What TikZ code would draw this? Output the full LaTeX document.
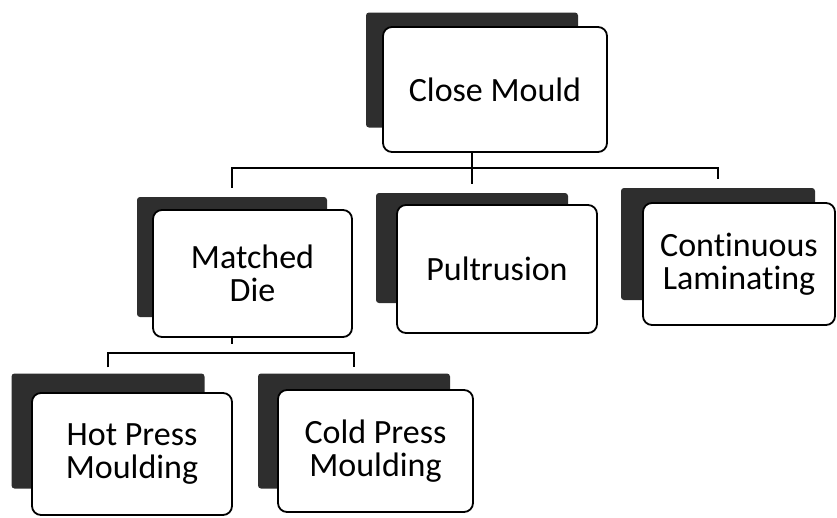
\documentclass[tikz,border=0pt]{standalone}
\usepackage{fontspec}
\setmainfont[Ligatures=NoCommon]{Carlito}
\usepackage{tikz}

\begin{document}
\begin{tikzpicture}[x=1pt,y=-1pt,
  back/.style={rectangle,fill=black!82,rounded corners=3pt,inner sep=0pt},
  front/.style={rectangle,draw,fill=white,line width=1.8pt,rounded corners=9pt,inner sep=2pt,align=center,font=\fontsize{34}{33}\selectfont},
  link/.style={draw,line width=2pt,shorten >=9pt}]
  \useasboundingbox (0,0) rectangle (837,517);
  \node[back,minimum width=212pt,minimum height=115pt] (cmb) at (472,70) {};
  \node[back,minimum width=190pt,minimum height=120pt] (mdb) at (232,257) {};
  \node[back,minimum width=192pt,minimum height=110pt] (pub) at (472,248) {};
  \node[back,minimum width=194pt,minimum height=112pt] (clb) at (718,244) {};
  \node[back,minimum width=193pt,minimum height=115pt] (hpb) at (108,431) {};
  \node[back,minimum width=192pt,minimum height=115pt] (cpb) at (354,431) {};
  \coordinate (bus1) at (472,168);
  \coordinate (bus2) at (232,353);
  \draw[link] (cmb.south) -- (pub.north);
  \draw[link,shorten <=9pt] (mdb.north) |- (bus1) -| (clb.north);
  \draw[link] (mdb.south) -- (bus2);
  \draw[link,shorten <=6pt,shorten >=6pt] (hpb.north) |- (bus2) -| (cpb.north);
  \node[front,minimum width=224pt,minimum height=125pt] (cm) at (495,89.5) {Close Mould};
  \node[front,minimum width=199pt,minimum height=127pt] (md) at (252.5,273.5) {Matched\\Die};
  \node[front,minimum width=200pt,minimum height=128pt] (pu) at (497,269) {Pultrusion};
  \node[front,minimum width=192pt,minimum height=122pt] (cl) at (739,264) {Continuous\\Laminating};
  \node[front,minimum width=200pt,minimum height=122pt] (hp) at (132,454) {Hot Press\\Moulding};
  \node[front,minimum width=195pt,minimum height=122pt] (cp) at (375.5,451) {Cold Press\\Moulding};
\end{tikzpicture}
\end{document}
